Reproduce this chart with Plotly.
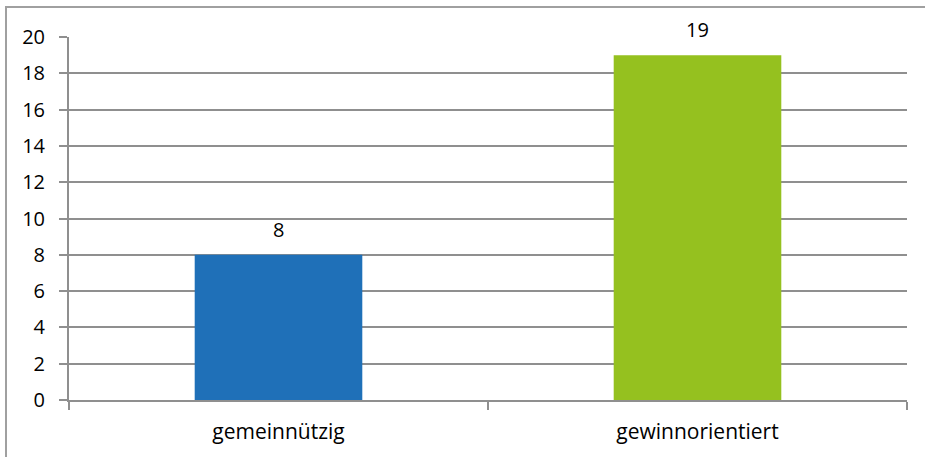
import plotly.graph_objects as go

categories = ["gemeinnützig", "gewinnorientiert"]
values = [8, 19]
bar_colors = ["#1F70B8", "#95C11F"]
y_ticks = [0, 2, 4, 6, 8, 10, 12, 14, 16, 18, 20]

W, H = 925, 457
ml, mr, mt, mb = 69, 18, 37, 57
pw, ph = W - ml - mr, H - mt - mb

grid = "#8F8F8F"
font = dict(family="Open Sans, Liberation Sans, sans-serif", size=20, color="#000000")
cat_font = dict(family="Open Sans, Liberation Sans, sans-serif", size=21, color="#000000")

fig = go.Figure(
    go.Bar(
        x=categories,
        y=values,
        marker=dict(color=bar_colors, line=dict(width=0)),
        width=0.4,
        cliponaxis=False,
    )
)

# value labels above each bar
for c, v in zip(categories, values):
    fig.add_annotation(
        x=c, y=v, text=str(v), showarrow=False,
        yanchor="bottom", yshift=10, font=font,
    )

fig.update_layout(
    width=W,
    height=H,
    margin=dict(l=ml, r=mr, t=mt, b=mb, pad=0),
    paper_bgcolor="white",
    plot_bgcolor="white",
    font=font,
    showlegend=False,
    xaxis=dict(
        showgrid=False,
        showline=True,
        linecolor=grid,
        linewidth=2,
        ticks="outside",
        tickson="boundaries",
        ticklen=8,
        tickwidth=2,
        tickcolor=grid,
        tickfont=cat_font,
        ticklabelstandoff=12,
    ),
    yaxis=dict(
        range=[0, 20],
        tickvals=y_ticks,
        showgrid=True,
        gridcolor=grid,
        gridwidth=2,
        showline=True,
        linecolor=grid,
        linewidth=2,
        ticks="outside",
        ticklen=8,
        tickwidth=2,
        tickcolor=grid,
        tickfont=font,
        ticklabelstandoff=10,
        zeroline=False,
    ),
    shapes=[
        dict(
            type="rect",
            xref="paper",
            yref="paper",
            x0=(6 - ml) / pw,
            x1=(W + 10 - ml) / pw,
            y0=-(H + 10 - (H - mb)) / ph,
            y1=1 + (mt - 7) / ph,
            line=dict(color="#A0A0A0", width=2),
            fillcolor="rgba(0,0,0,0)",
            layer="below",
        )
    ],
)

fig.write_html("out.html")
